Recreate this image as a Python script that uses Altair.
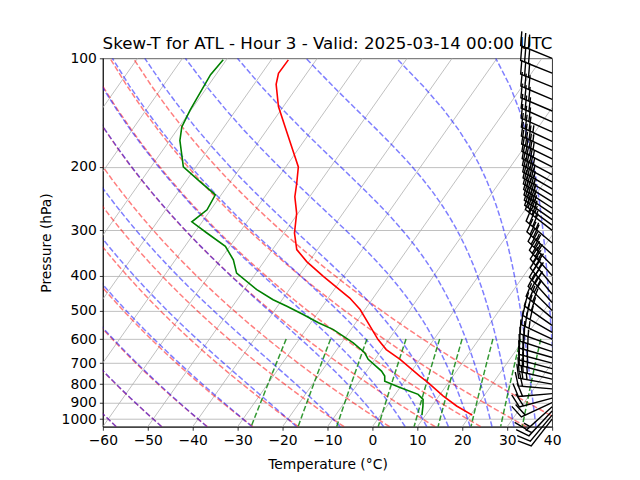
import numpy as np
import pandas as pd
import altair as alt

# ---------------- values ----------------
title_text = "Skew-T for ATL - Hour 3 - Valid: 2025-03-14 00:00 UTC"

temp_p = [975, 920, 863, 793, 760, 683, 642, 602, 497, 462, 402, 366, 339, 305,
          269, 242, 222, 200, 180, 155, 136, 118, 110, 101]
temp_c = [20.4, 15.5, 10.9, 5.5, 2.6, -4.4, -9.0, -12.4, -21.1, -25.2, -34.5, -40.5,
          -44.6, -47.7, -50.3, -53.3, -55.0, -57.2, -61.0, -66.4, -71.1, -75.1, -76.3, -76.2]

dew_p = [975, 920, 882, 854, 818, 785, 760, 736, 683, 655, 615, 565, 541, 513, 487,
         467, 438, 394, 362, 332, 305, 284, 263, 239, 220, 200, 169, 155, 139, 111, 101]
dew_c = [9.2, 8.0, 7.0, 5.1, 0.0, -4.4, -5.2, -6.7, -11.5, -13.3, -17.4, -23.9, -28.3,
         -33.0, -37.9, -42.0, -47.2, -54.3, -57.1, -61.0, -67.2, -72.3, -70.8, -71.3,
         -76.7, -82.8, -87.7, -89.4, -90.2, -91.2, -90.7]

wind_p = [1000, 975, 950, 925, 900, 875, 850, 825, 800, 775, 750, 725, 700, 675, 650,
          625, 600, 575, 550, 525, 500, 475, 450, 425, 400, 375, 350, 325, 300, 290,
          280, 270, 260, 250, 240, 230, 220, 210, 200, 190, 180, 170, 160, 150, 140,
          130, 120, 110, 100]
wind_dir = [218, 220, 223, 228, 245, 255, 265, 275, 280, 283, 285, 285, 285, 286, 288,
            290, 295, 300, 305, 310, 315, 318, 320, 320, 318, 315, 312, 310, 308, 306,
            305, 304, 303, 302, 301, 300, 299, 298, 297, 296, 295, 295, 294, 294, 293,
            293, 292, 292, 292]
wind_kt = [10, 10, 15, 15, 20, 20, 20, 20, 25, 25, 25, 25, 25, 25, 25, 25, 25, 30, 30,
           30, 30, 35, 35, 35, 35, 35, 35, 35, 35, 35, 35, 35, 35, 35, 35, 35, 35, 35,
           35, 35, 35, 35, 30, 30, 30, 30, 30, 30, 30]

x_ticks = list(range(-60, 41, 10))
p_ticks = [100, 200, 300, 400, 500, 600, 700, 800, 900, 1000]

# ---------------- diagram geometry (MetPy-style skew-T) ----------------
P_BOT, P_TOP = 1050.0, 100.0
T_MIN, T_MAX = -60.0, 40.0
SKEW = (T_MAX - T_MIN) * np.tan(np.radians(30))


def skew_x(t, p):
    p = np.asarray(p, dtype=float)
    return np.asarray(t, dtype=float) + SKEW * np.log(P_BOT / p) / np.log(P_BOT / P_TOP)


Rd, Cp, Lv, eps = 287.04749, 1004.6662, 2.50084e6, 0.6219569
kappa = Rd / Cp


def moist_rate(p, T):
    es = 6.112 * np.exp(17.67 * (T - 273.15) / (T - 29.65))
    rs = eps * es / (p - es)
    return (Rd * T + Lv * rs) / (Cp + Lv * Lv * rs * eps / (Rd * T * T)) / p


def moist_lapse(pgrid, t0):
    T0 = np.asarray(t0, float) + 273.15
    out = np.zeros((len(T0), len(pgrid)))
    for j, pt in enumerate(pgrid):
        T = T0.copy()
        n = 200
        ps = np.linspace(1000.0, pt, n + 1)
        for k in range(n):
            p0, dp = ps[k], ps[k + 1] - ps[k]
            k1 = moist_rate(p0, T)
            k2 = moist_rate(p0 + dp / 2, T + dp / 2 * k1)
            k3 = moist_rate(p0 + dp / 2, T + dp / 2 * k2)
            k4 = moist_rate(p0 + dp, T + dp * k3)
            T = T + dp / 6 * (k1 + 2 * k2 + 2 * k3 + k4)
        out[:, j] = T - 273.15
    return out


rows = []
pgrid = np.linspace(P_BOT, P_TOP, 50)
dry_t0 = np.arange(T_MIN, T_MAX + 1, 10)
for i, t0 in enumerate(dry_t0):
    tt = (t0 + 273.15) * (pgrid / 1000.0) ** kappa - 273.15
    for k, (pp, tv) in enumerate(zip(pgrid, tt)):
        rows.append(("dry", f"d{i}", k, pp, float(skew_x(tv, pp))))

moist_t0 = np.concatenate((np.arange(T_MIN, 0, 10), np.arange(0, T_MAX + 1, 5)))
mt = moist_lapse(pgrid, moist_t0)
for i in range(len(moist_t0)):
    for k, pp in enumerate(pgrid):
        rows.append(("moist", f"m{i}", k, pp, float(skew_x(mt[i, k], pp))))

mix_w = [0.0004, 0.001, 0.002, 0.004, 0.007, 0.01, 0.016, 0.024, 0.032]
pmix = np.linspace(600, P_BOT, 50)
for i, w in enumerate(mix_w):
    e = pmix * w / (eps + w)
    val = np.log(e / 6.112)
    td = 243.5 * val / (17.67 - val)
    for k, (pp, tv) in enumerate(zip(pmix, td)):
        rows.append(("mix", f"w{i}", k, pp, float(skew_x(tv, pp))))

for i, t in enumerate(range(-120, 41, 10)):
    rows.append(("iso", f"i{i}", 0, P_BOT, float(skew_x(t, P_BOT))))
    rows.append(("iso", f"i{i}", 1, P_TOP, float(skew_x(t, P_TOP))))

bg = pd.DataFrame(rows, columns=["kind", "line", "k", "p", "xs"])

prof = pd.DataFrame({"p": temp_p, "xs": skew_x(temp_c, temp_p), "k": range(len(temp_p))})
dewdf = pd.DataFrame({"p": dew_p, "xs": skew_x(dew_c, dew_p), "k": range(len(dew_p))})


# ---------------- wind barbs (matplotlib barb construction) ----------------
def barb_path(spd):
    L = 7.0
    spacing, h, w = L * 0.125, L * 0.4, L * 0.25
    mag = 5 * int(spd / 5 + 0.5)
    nflags = mag // 50
    mag -= nflags * 50
    nbarbs = mag // 10
    mag -= nbarbs * 10
    half = mag >= 5
    s = 1.0 / L
    if nflags == 0 and nbarbs == 0 and not half:
        ang = np.linspace(0, 2 * np.pi, 20)
        pts = [(1.05 * np.cos(a), 1.05 * np.sin(a)) for a in ang]
    else:
        pts = [(0.0, 0.0)]
        off = L
        for _ in range(nflags):
            if off != L:
                off += spacing / 2
            pts += [(0, off), (h, off - w / 2), (0, off - w)]
            off -= w + spacing
        for _ in range(nbarbs):
            pts += [(0, off), (h, off + w / 2), (0, off)]
            off -= spacing
        if half:
            if off == L:
                pts.append((0, off))
                off -= 1.5 * spacing
            pts += [(0, off), (h / 2, off + w / 4), (0, off)]
    return "M" + " L".join(f"{x * s:.4f},{-y * s:.4f}" for x, y in pts) + " Z"


wdf = pd.DataFrame({"p": wind_p, "dir": wind_dir, "spd": wind_kt})
wdf["cat"] = ["s%d" % (5 * int(v / 5 + 0.5)) for v in wdf["spd"]]
cats = sorted(set(wdf["cat"]), key=lambda c: int(c[1:]))
paths = [barb_path(int(c[1:])) for c in cats]

# ---------------- chart ----------------
W, H = 450, 369
FONT = "DejaVu Sans"
xscale = alt.Scale(domain=[T_MIN, T_MAX], nice=False, zero=False)
yscale = alt.Scale(type="log", domain=[P_TOP, P_BOT], reverse=True, nice=False)

common = dict(tickSize=3.5, tickColor="black", tickWidth=0.8, domainColor="black",
              domainWidth=0.8, labelFont=FONT, titleFont=FONT, labelFontSize=13.9,
              titleFontSize=13.9, titleFontWeight="normal", labelColor="black",
              titleColor="black", labelPadding=3, labelFlush=False, labelOverlap=False,
              format="d")
xaxis = alt.Axis(values=x_ticks, title="Temperature (°C)", grid=False, titlePadding=10,
                 **common)
yaxis = alt.Axis(values=p_ticks, title="Pressure (hPa)", grid=True, gridColor="#b0b0b0",
                 gridWidth=0.8, titlePadding=8, **common)

X = alt.X("xs:Q", scale=xscale, axis=xaxis)
Y = alt.Y("p:Q", scale=yscale, axis=yaxis)


def bg_layer(kind, color, opacity, width, dash=None):
    kw = dict(color=color, strokeWidth=width, opacity=opacity, clip=True)
    if dash:
        kw["strokeDash"] = dash
    return alt.Chart(bg).transform_filter(alt.datum.kind == kind).mark_line(**kw).encode(
        x=X, y=Y, detail="line:N", order="k:Q")


dashed = [5.55, 2.4]
layers = [
    bg_layer("iso", "#b0b0b0", 1.0, 0.8),
    bg_layer("dry", "#ff0000", 0.5, 1.5, dashed),
    bg_layer("moist", "#0000ff", 0.5, 1.5, dashed),
    bg_layer("mix", "#008000", 0.8, 1.5, dashed),
    alt.Chart(prof).mark_line(color="#ff0000", strokeWidth=1.6, clip=True).encode(
        x=X, y=Y, order="k:Q"),
    alt.Chart(dewdf).mark_line(color="#008000", strokeWidth=1.6, clip=True).encode(
        x=X, y=Y, order="k:Q"),
    alt.Chart(pd.DataFrame({"t": [title_text]})).mark_text(
        font=FONT, fontSize=16.7, align="center", baseline="alphabetic", color="black").encode(
        text="t:N", x=alt.value(W / 2), y=alt.value(-9)),
    alt.Chart(wdf).mark_point(filled=True, fill="black", stroke="black", strokeWidth=1.4,
                              opacity=1).encode(
        x=alt.value(W), y=Y,
        shape=alt.Shape("cat:N", scale=alt.Scale(domain=cats, range=paths), legend=None),
        angle=alt.Angle("dir:Q", scale=None),
        size=alt.value((2 * 34.0) ** 2)),
]

chart = alt.layer(*layers).properties(
    width=W, height=H,
    padding={"left": 95, "top": 50, "right": 80, "bottom": 45},
    autosize=alt.AutoSizeParams(type="none"),
).configure_view(stroke="black", strokeWidth=0.8)

chart.save("out.html", embed_options={"renderer": "svg", "actions": False})
